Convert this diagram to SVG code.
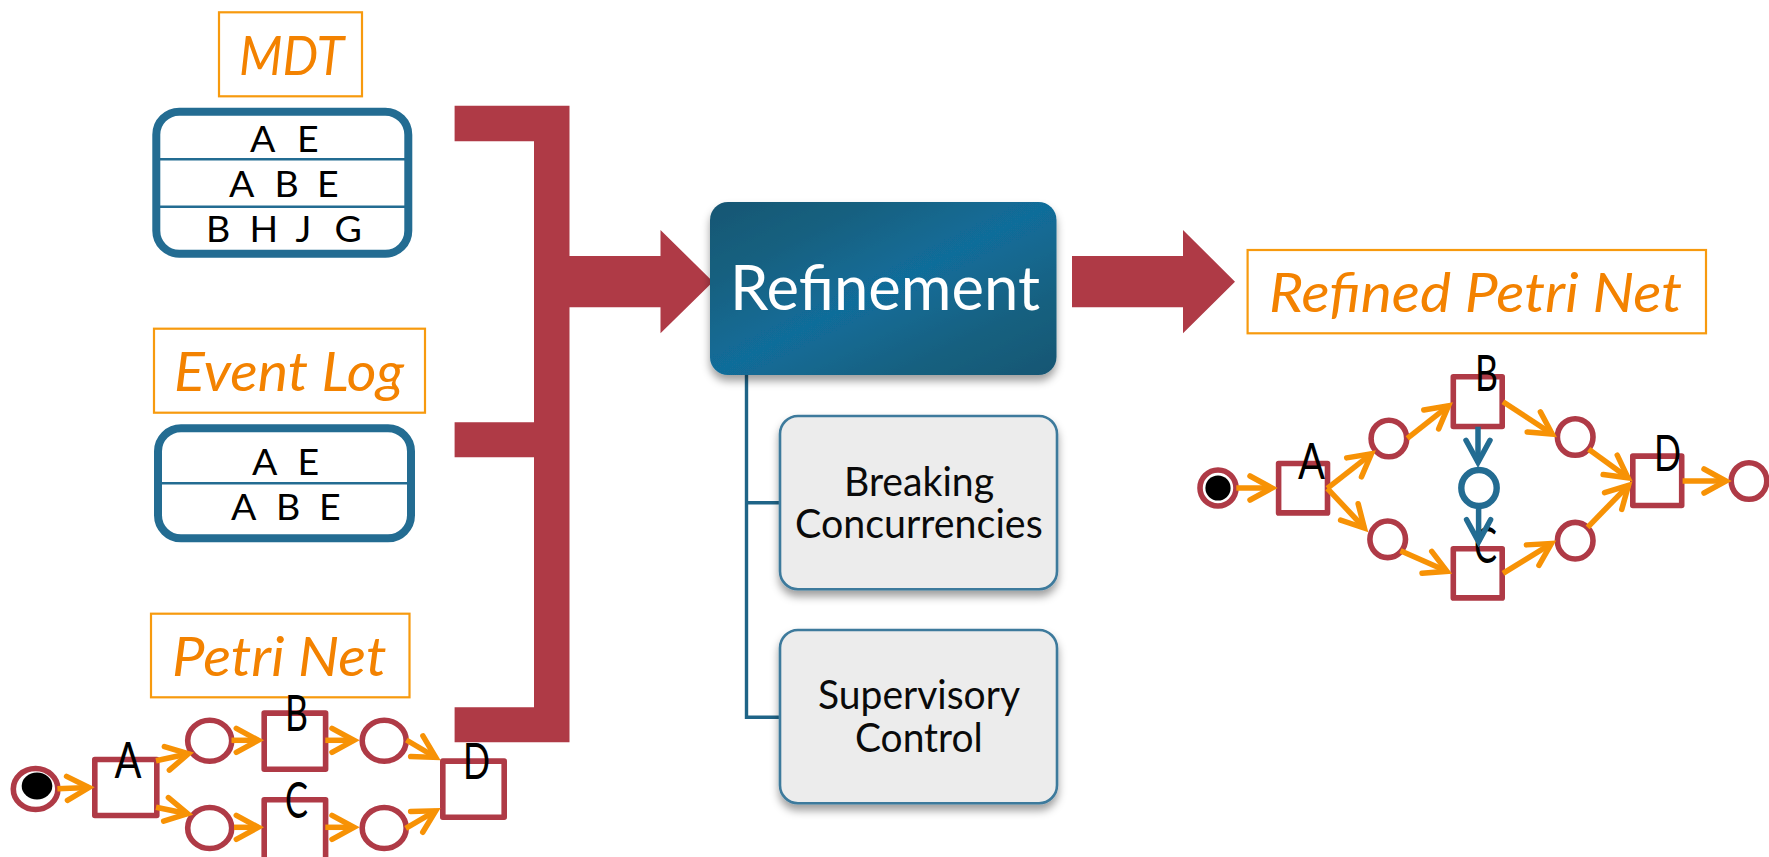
<svg xmlns="http://www.w3.org/2000/svg" width="1769" height="857" viewBox="0 0 1769 857">
<style>
text{font-family:"Lato","Open Sans","Liberation Sans",sans-serif}
.title{fill:#F38200;font-style:italic;font-size:54px}
.tbox{fill:#fff;stroke:#F79A0E;stroke-width:2.2}
.table{fill:#fff;stroke:#236C92;stroke-width:8}
.rowline{stroke:#236C92;stroke-width:2.4;fill:none}
.row{fill:#000;font-size:37.500px}
.red{fill:#AF3A46}
.trans{fill:#fff;stroke:#AF3A46;stroke-width:5.600;stroke-linejoin:round}
.place{fill:#fff;stroke:#AF3A46;stroke-width:5.600}
.blueplace{fill:#fff;stroke:#236C92;stroke-width:6.400}
.lab{fill:#000;font-size:50px}
.arc{stroke:#F79205;stroke-width:5.500;fill:none;marker-end:url(#oa)}
.barc{stroke:#236C92;stroke-width:5.500;fill:none;marker-end:url(#ba)}
.sub{fill:#ECECEC;stroke:#3D7A9C;stroke-width:2.600;filter:url(#sh)}
.subt{fill:#0a0a0a;font-size:40px}
.tree{stroke:#1F6487;stroke-width:3.400;fill:none}
</style>
<defs>
<marker id="oa" markerUnits="userSpaceOnUse" viewBox="-30 -18 40 36" markerWidth="40" markerHeight="36" refX="0" refY="0" orient="auto"><path d="M-22,-12 L0,0 L-22,12" fill="none" stroke="#F79205" stroke-width="5.500" stroke-linecap="round"/></marker>
<marker id="ba" markerUnits="userSpaceOnUse" viewBox="-30 -18 40 36" markerWidth="40" markerHeight="36" refX="0" refY="0" orient="auto"><path d="M-22,-12 L0,0 L-22,12" fill="none" stroke="#236C92" stroke-width="5.500" stroke-linecap="round"/></marker>
<linearGradient id="rg" x1="0" y1="0" x2="1" y2="1"><stop offset="0" stop-color="#175673"/><stop offset=".22" stop-color="#16607F"/><stop offset=".5" stop-color="#116D9A"/><stop offset=".78" stop-color="#16607F"/><stop offset="1" stop-color="#175673"/></linearGradient>
<filter id="sh" x="-10%" y="-10%" width="120%" height="125%"><feDropShadow dx="0" dy="6" stdDeviation="4" flood-color="#000" flood-opacity=".38"/></filter>
</defs>

<g id="red-bracket">
<path class="red" d="M454.600,105.700H569.500V256H660.500V230L713,281.700L660.500,333.300V307.300H569.500V742.300H454.600V707.300H534V457.300H454.600V422.300H534V141.300H454.600Z"/>
</g>
<g id="refine-arrow"><path class="red" d="M1072,256H1183V230L1235,281.700L1183,333.300V307.300H1072Z"/></g>

<g id="connectors">
<path class="tree" d="M746.500,375V717.300H780M746.500,502.700H780"/>
</g>

<g id="mdt-title"><rect class="tbox" x="219" y="12.300" width="143" height="84"/><text class="title" x="239" y="75" textLength="105" lengthAdjust="spacingAndGlyphs">MDT</text></g>
<g id="mdt-table">
<rect class="table" x="156.300" y="111.700" width="252" height="142" rx="23"/>
<line class="rowline" x1="160" x2="405" y1="159.300" y2="159.300"/>
<line class="rowline" x1="160" x2="405" y1="206.700" y2="206.700"/>
<text class="row" y="152.300" x="250 275 297">A E</text>
<text class="row" y="197.300" x="229 255 274.500 296 317">A B E</text>
<text class="row" y="242.300" x="206 230 249.500 275 295.500 320 334.500">B H J G</text>
</g>

<g id="eventlog-title"><rect class="tbox" x="154" y="328.700" width="271" height="84"/><text class="title" x="174" y="391" textLength="230" lengthAdjust="spacingAndGlyphs">Event Log</text></g>
<g id="eventlog-table">
<rect class="table" x="158" y="428.300" width="253" height="110" rx="23"/>
<line class="rowline" x1="162" x2="407" y1="483.300" y2="483.300"/>
<text class="row" y="475.300" x="252 277 297.500">A E</text>
<text class="row" y="520" x="231 257 276 298 319">A B E</text>
</g>

<g id="petrinet-title"><rect class="tbox" x="151" y="613.700" width="258.500" height="83.600"/><text class="title" x="172" y="676" textLength="214.500" lengthAdjust="spacingAndGlyphs">Petri Net</text></g>

<g id="petrinet-left">
<ellipse class="place" cx="35.600" cy="789" rx="22.300" ry="20.500"/>
<ellipse cx="37" cy="786" rx="15.300" ry="13.500" fill="#000"/>
<ellipse class="place" cx="209.700" cy="740.700" rx="22" ry="20.500"/>
<ellipse class="place" cx="384.200" cy="740.700" rx="22" ry="20.500"/>
<ellipse class="place" cx="209.700" cy="828" rx="22" ry="20.500"/>
<ellipse class="place" cx="384.200" cy="828" rx="22" ry="20.500"/>
<rect class="trans" x="94.800" y="759.500" width="62" height="56"/>
<rect class="trans" x="264.200" y="713.100" width="61.400" height="56.100"/>
<rect class="trans" x="264.200" y="799.800" width="61.400" height="60"/>
<rect class="trans" x="442.800" y="761.100" width="61.400" height="56.100"/>
<g>
<path class="arc" d="M57.400,788.700L89,787.500"/>
<path class="arc" d="M156,760.700L188.400,753.800"/>
<path class="arc" d="M156,807.300L187.600,813.700"/>
<path class="arc" d="M231.500,740.300H258.300"/>
<path class="arc" d="M234,827.300H258.300"/>
<path class="arc" d="M325.300,740.300H354"/>
<path class="arc" d="M325.300,827.300H354"/>
<path class="arc" d="M406.400,740L435.700,757.400"/>
<path class="arc" d="M405.700,828.300L435.700,810.800"/>
</g>
<text class="lab" x="114.500" y="778.300" textLength="27" lengthAdjust="spacingAndGlyphs">A</text>
<text class="lab" x="285" y="730.700" textLength="23" lengthAdjust="spacingAndGlyphs">B</text>
<text class="lab" x="285" y="818.300" textLength="23" lengthAdjust="spacingAndGlyphs">C</text>
<text class="lab" x="463" y="779.300" textLength="27" lengthAdjust="spacingAndGlyphs">D</text>
</g>

<g id="refinement">
<rect x="710" y="202" width="346.500" height="173" rx="18" fill="url(#rg)" filter="url(#sh)"/>
<text x="730" y="310" fill="#fff" font-size="62" textLength="310" lengthAdjust="spacingAndGlyphs">Refinement</text>
</g>
<g id="breaking">
<rect class="sub" x="780" y="416" width="277" height="173.300" rx="18"/>
<text class="subt" x="844" y="495.700" textLength="150" lengthAdjust="spacingAndGlyphs">Breaking</text>
<text class="subt" x="795" y="538" textLength="247.700" lengthAdjust="spacingAndGlyphs">Concurrencies</text>
</g>
<g id="supervisory">
<rect class="sub" x="780" y="630" width="277" height="173.300" rx="18"/>
<text class="subt" x="818" y="709" textLength="202" lengthAdjust="spacingAndGlyphs">Supervisory</text>
<text class="subt" x="855" y="751.700" textLength="127.700" lengthAdjust="spacingAndGlyphs">Control</text>
</g>

<g id="refined-title"><rect class="tbox" x="1247.600" y="250" width="458.400" height="83.300"/><text class="title" x="1269" y="311.700" textLength="413" lengthAdjust="spacingAndGlyphs">Refined Petri Net</text></g>

<g id="petrinet-right">
<circle class="place" cx="1218" cy="488" r="18"/>
<circle cx="1218" cy="488" r="12.600" fill="#000"/>
<ellipse class="place" cx="1388.900" cy="438.500" rx="17.800" ry="18.300"/>
<ellipse class="place" cx="1387.700" cy="539.300" rx="17.800" ry="18.300"/>
<ellipse class="place" cx="1575.200" cy="437" rx="17.800" ry="18.300"/>
<ellipse class="place" cx="1575.200" cy="540.700" rx="17.800" ry="18.300"/>
<ellipse class="place" cx="1749" cy="481" rx="17.800" ry="18.300"/>
<ellipse class="blueplace" cx="1479" cy="488" rx="17.700" ry="18"/>
<rect class="trans" x="1278.600" y="463.500" width="48.900" height="49.400"/>
<rect class="trans" x="1453.300" y="376.800" width="48.900" height="49.700"/>
<rect class="trans" x="1453.300" y="548.800" width="48.900" height="49.100"/>
<rect class="trans" x="1632.800" y="456.100" width="48.900" height="49.400"/>
<g>
<path class="arc" d="M1236.300,488H1272"/>
<path class="arc" d="M1327.300,488.300L1371.400,453.800"/>
<path class="arc" d="M1327.300,488.300L1364.400,528"/>
<path class="arc" d="M1407.300,438.300L1448.500,405.800"/>
<path class="arc" d="M1400.500,550.700L1447,571.300"/>
<path class="arc" d="M1503,401.700L1552.200,434"/>
<path class="arc" d="M1503,573.300L1551.400,543.600"/>
<path class="arc" d="M1588.700,449.300L1628,477.800"/>
<path class="arc" d="M1587.600,527.300L1628.500,485.300"/>
<path class="arc" d="M1682.600,481H1726"/>
</g>
<text class="lab" x="1298" y="478.700" textLength="27" lengthAdjust="spacingAndGlyphs">A</text>
<text class="lab" x="1475" y="391.300" textLength="23" lengthAdjust="spacingAndGlyphs">B</text>
<text class="lab" x="1474" y="563.300" textLength="23" lengthAdjust="spacingAndGlyphs">C</text>
<text class="lab" x="1654" y="471.300" textLength="27" lengthAdjust="spacingAndGlyphs">D</text>
<path class="barc" d="M1478,426.700V462.300"/>
<path class="barc" d="M1478.600,508.300V541.700"/>
</g>
</svg>
